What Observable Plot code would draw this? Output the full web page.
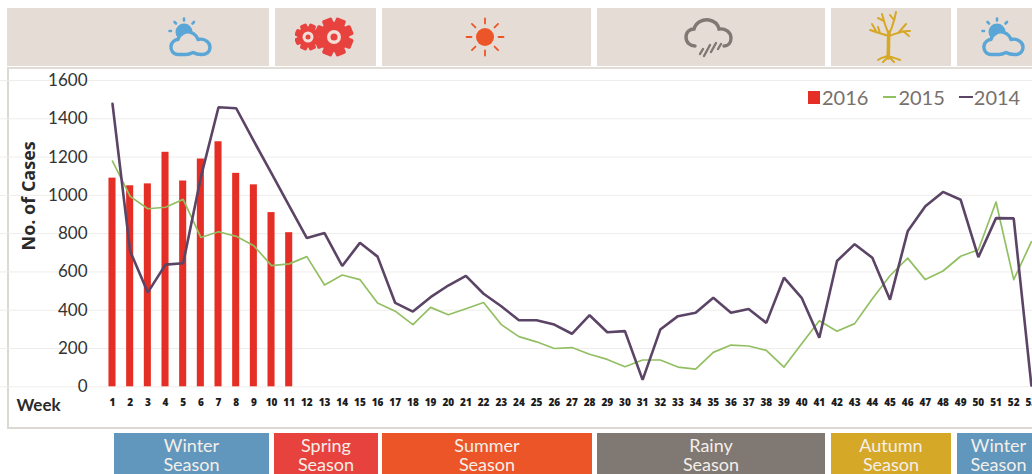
<!DOCTYPE html>
<html><head><meta charset="utf-8">
<script src="https://cdn.jsdelivr.net/npm/d3@7"></script>
<script src="https://cdn.jsdelivr.net/npm/@observablehq/plot@0.6"></script>
<style>
html,body{margin:0;padding:0;background:#fff;overflow:hidden}
#page{position:relative;width:1032px;height:474px;overflow:hidden;font-family:Lato,sans-serif}
#frame{position:absolute;left:7px;top:67px;width:1030px;height:362px;box-sizing:border-box;border:2px solid #dcd8d3;border-top:2px solid #e2dcd7;background:#fff}
.hd{position:absolute;top:8px;height:58px;background:#e6dcd6;display:flex;align-items:center;justify-content:center}
.lb{position:absolute;top:433px;height:41px;color:#f4efe9;font-size:18px;text-align:center;padding-top:3px;box-sizing:border-box}
.lb div{height:18.5px;line-height:18.5px}
#chart{position:absolute;left:0;top:0}
#legend{position:absolute;left:808px;top:84px;font-size:20px;line-height:26px;color:#77706c;white-space:nowrap;display:flex;align-items:center}
#legend i{display:inline-block}
</style></head><body>
<div id="page"><div id="frame"></div><div id="chart"></div><div id="legend"></div></div>
<script>
const weeks = d3.range(1, 54);
const cases2016 = [1090,1050,1060,1225,1075,1190,1280,1115,1055,910,805];
const cases2015 = [1179,995,930,938,979,780,810,786,737,633,642,680,532,584,560,438,395,325,415,376,408,440,325,262,235,200,205,170,143,105,140,140,103,92,180,218,213,190,103,225,345,290,330,460,580,672,560,605,682,716,965,560,757];
const cases2014 = [1478,708,493,638,645,1095,1460,1455,1283,1115,945,777,803,631,752,680,438,393,468,529,579,486,421,348,348,325,277,374,285,291,36,299,369,387,465,387,406,334,570,465,256,657,745,674,455,812,943,1018,977,677,881,880,7];
const yTicks = [0,200,400,600,800,1000,1200,1400,1600];
const legendItems = ["2016","2015","2014"];
const seasonNames = ["Winter","Spring","Summer","Rainy","Autumn","Winter"];
const seasonColors = ["#6297bd","#e8423f","#ec5527","#807873","#d6a827","#6297bd"];
const seasonHeadLeft = [7,275,382,597,831,957], seasonHeadRight = [269,376,591,825,951,1040];
const seasonLabelLeft = [114,274,382,597,831,957], seasonLabelRight = [269,378,592,825,951,1040];
const colors = {bar:"#e52f26", y2015:"#93bf63", y2014:"#5b4465"};

const chart = Plot.plot({
  width:1032, height:474, margin:0,
  style:{background:"transparent", fontFamily:"Lato, sans-serif", overflow:"hidden"},
  x:{type:"band", domain:weeks, range:[97.86,1045], padding:0.6},
  y:{domain:[0,1600], range:[386.3,80]},
  marks:[
    Plot.gridY(yTicks,{stroke:"#efedeb", strokeOpacity:1}),
    Plot.barY(cases2016,{x:(d,i)=>weeks[i], y:d=>d, fill:colors.bar}),
    Plot.lineY(cases2015,{x:(d,i)=>weeks[i], y:d=>d, stroke:colors.y2015, strokeWidth:1.7}),
    Plot.lineY(cases2014,{x:(d,i)=>weeks[i], y:d=>d, stroke:colors.y2014, strokeWidth:2.6, strokeLinejoin:"miter"}),
    Plot.axisY(yTicks,{anchor:"left", tickSize:0, tickPadding:0, dx:87, textAnchor:"end", label:null, fontSize:17, fill:"#333", tickFormat:d=>String(d)}),
    Plot.axisX(weeks,{anchor:"bottom", tickSize:0, label:null, y:0, dy:3, fontSize:10, fontWeight:800, fill:"#1c1c1c", tickFormat:d=>String(d), fontFamily:"'Open Sans',sans-serif"}),
    Plot.text(["No. of Cases"],{frameAnchor:"left", text:d=>d, rotate:-90, dx:29, dy:13, fontSize:18, fontWeight:700, fontFamily:"'Open Sans',sans-serif", fill:"#2a2a2a"}),
    Plot.text(["Week"],{frameAnchor:"left", text:d=>d, dx:16, dy:168, textAnchor:"start", fontSize:17, fontWeight:700, fill:"#2a2a2a"})
  ]
});
document.getElementById("chart").append(chart);

const headBg = "#e6dcd6";
const sunCloud = (c)=>`<svg width="44" height="40" viewBox="0 0 44 40"><circle cx="16" cy="15" r="8.500" fill="${c}"/><g stroke="${c}" stroke-width="2.600" stroke-linecap="round"><path d="M16 1.500v2M6.500 5l1.500 1.500M26 5l-1.500 1.500M1.500 14h1.500"/></g><path d="M10 37.500C5 37.500 2.500 33 3 29C3.500 25 7 22.500 10 22.500C11 17 18 13.500 23 15.500C27 17 29 19.500 30 22.500C36 21 42 25 42 30C42 35 38 38 33 37.500C29.500 37.500 27 36.500 25 35.500C23 36.500 21 37.500 18 37.500z" fill="${headBg}" stroke="${c}" stroke-width="3.400" stroke-linejoin="round"/></svg>`;
const gear = (x,y,r,ring,hole)=>`<g>${d3.range(4).map(i=>`<rect x="${x-r*0.27}" y="${y-r}" width="${r*0.54}" height="${r*2}" rx="1.800" fill="#e8423f" transform="rotate(${i*45+22.5} ${x} ${y})"/>`).join("")}<circle cx="${x}" cy="${y}" r="${r*0.78}" fill="#e8423f"/><circle cx="${x}" cy="${y}" r="${ring}" fill="#f3dfd6"/><circle cx="${x}" cy="${y}" r="${hole}" fill="#e8423f"/></g>`;
const gears = `<svg width="60" height="40" viewBox="0 0 60 40">${gear(13,20,13.500,5.500,2.500)}${gear(39,20,19.500,7,3.500)}</svg>`;
const sun = `<svg width="44" height="44" viewBox="0 0 44 44"><circle cx="22" cy="22" r="9" fill="#ec5527"/><g stroke="#ec5527" stroke-width="1.800" stroke-linecap="round">${d3.range(8).map(i=>`<line x1="22" y1="3.500" x2="22" y2="8.500" transform="rotate(${i*45} 22 22)"/>`).join("")}</g></svg>`;
const rain = `<svg width="50" height="42" viewBox="0 0 50 42"><path d="M11 30c-5 0-9-3.500-9-9s4-8 8-8c2-7 9-10 15-9 6 1 9 5 10 9 6-1 12 3 12 9 0 5-3 8-7 8" fill="none" stroke="#807873" stroke-width="3.400" stroke-linecap="round"/><g stroke="#807873" stroke-width="2.400" stroke-linecap="round"><path d="M19 33l-3 5M26 29l-6 11M32 27l-5 9M37 28l-3 5"/></g></svg>`;
const tree = `<svg width="46" height="54" viewBox="0 0 46 54"><g fill="none" stroke="#d6a827" stroke-linecap="round"><path d="M22 48C23 38 22 30 23 22" stroke-width="3.600"/><path d="M23 26C16 24 10 22 4 20M10 21L6 14M14 23L12 17M23 25C20 18 18 12 16 4M18 11L12 8M23 24C26 18 28 12 30 2M28 10L24 5M23 26C30 24 36 20 44 21M33 22L40 14M37 21L43 26M12 50C16 47 20 47 22 46C25 47 30 48 34 50M22 47L17 52M23 47L28 52" stroke-width="2"/></g></svg>`;
const icons = [sunCloud("#5aa6d6"),gears,sun,rain,tree,sunCloud("#5aa6d6")];
const iconShift = [52,-1,-2,-2,-2,4];
const page = document.getElementById("page");
seasonNames.forEach((s,i)=>{
  const h=document.createElement("div");h.className="hd";
  h.style.left=seasonHeadLeft[i]+"px";h.style.width=(seasonHeadRight[i]-seasonHeadLeft[i])+"px";
  h.innerHTML=`<span style="display:block;line-height:0;transform:translateX(${iconShift[i]}px)">${icons[i]}</span>`;
  page.append(h);
  const l=document.createElement("div");l.className="lb";
  l.style.left=seasonLabelLeft[i]+"px";l.style.width=(seasonLabelRight[i]-seasonLabelLeft[i])+"px";l.style.background=seasonColors[i];
  l.innerHTML=`<div>${s}</div><div>Season</div>`;
  page.append(l);
});
const lg=document.getElementById("legend");
lg.innerHTML=`<i style="width:12px;height:13px;background:${colors.bar};margin-right:2px"></i>${legendItems[0]}<i style="width:13px;height:1.500px;background:${colors.y2015};margin:0 2px 0 15px"></i>${legendItems[1]}<i style="width:14px;height:2.500px;background:${colors.y2014};margin:0 1px 0 14px"></i>${legendItems[2]}`;
</script></body></html>
